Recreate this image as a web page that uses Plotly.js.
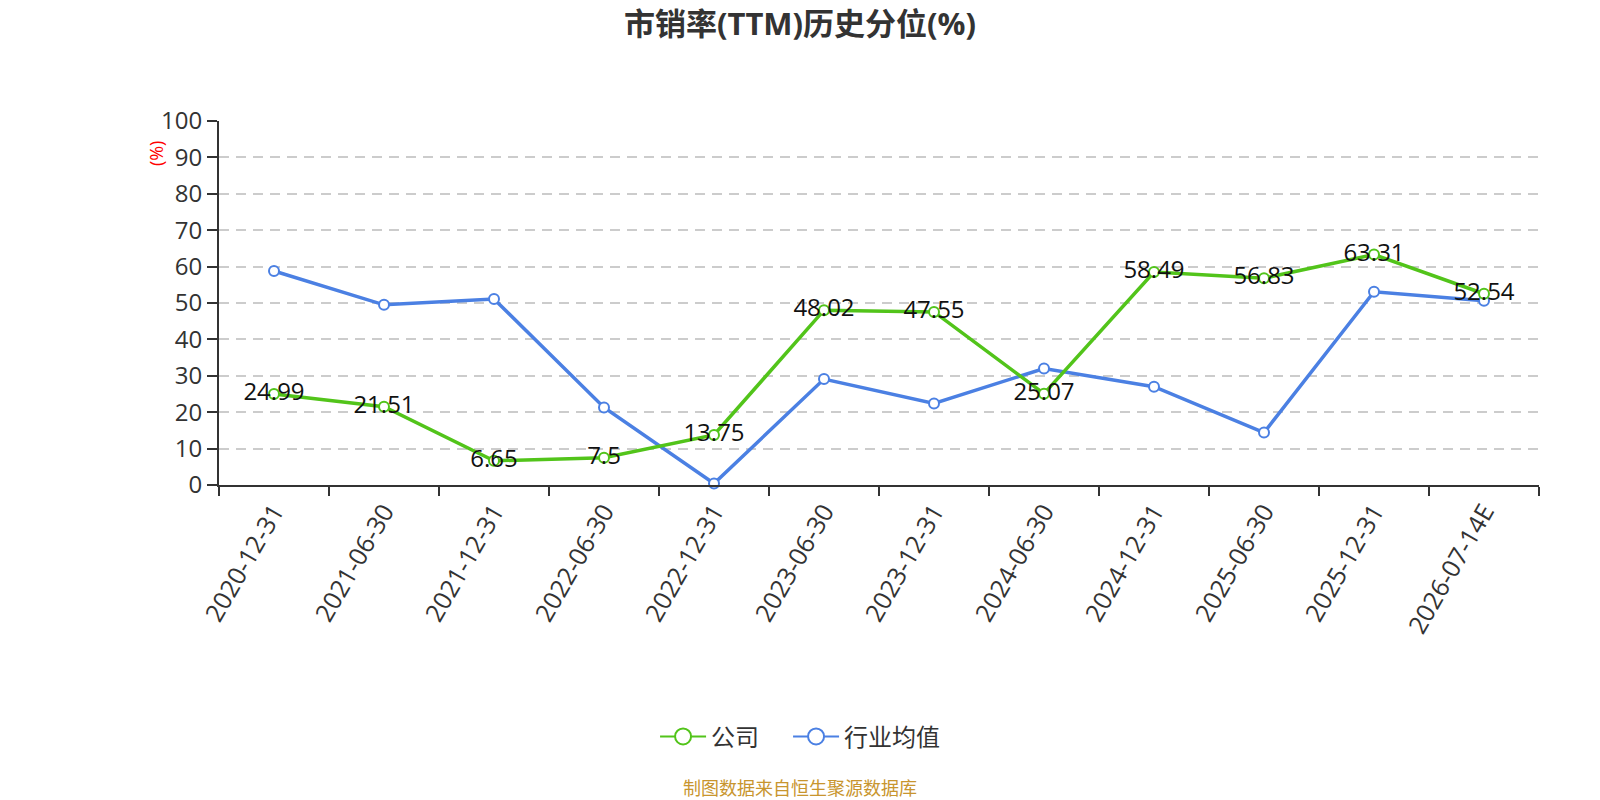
<!DOCTYPE html>
<html>
<head>
<meta charset="utf-8">
<script src="https://cdn.plot.ly/plotly-3.0.1.min.js"></script>
<style>
  html, body { margin: 0; padding: 0; background: #fff; }
  #chart { width: 1600px; height: 800px; }
</style>
</head>
<body>
<div id="chart"></div>
<script>
// report dates (last one is an estimate)
const dates = ['2020-12-31', '2021-06-30', '2021-12-31', '2022-06-30', '2022-12-31', '2023-06-30',
  '2023-12-31', '2024-06-30', '2024-12-31', '2025-06-30', '2025-12-31', '2026-07-14E'];
// company percentile, labelled in the picture
const company = [24.99, 21.51, 6.65, 7.5, 13.75, 48.02, 47.55, 25.07, 58.49, 56.83, 63.31, 52.54];
// industry average
const industry = [58.8, 49.5, 51.1, 21.3, 0.4, 29.1, 22.4, 32.0, 27.0, 14.4, 53.1, 50.6];
const yTicks = [0, 10, 20, 30, 40, 50, 60, 70, 80, 90, 100];

const green = '#52c41a';
const blue = '#4b80e3';
const fnt = '"Open Sans", "Noto Sans CJK SC", sans-serif';

const traces = [
  {
    x: dates, y: industry, name: '行业均值', type: 'scatter', mode: 'lines+markers',
    line: {color: blue, width: 3.5},
    marker: {symbol: 'circle', size: 10, color: '#fff', line: {color: blue, width: 2}},
    showlegend: false, cliponaxis: false
  },
  {
    x: dates, y: company, name: '公司', type: 'scatter', mode: 'lines+markers+text',
    text: company.map(String), textposition: 'middle center',
    textfont: {family: fnt, size: 24, color: '#111'},
    line: {color: green, width: 3.5},
    marker: {symbol: 'circle', size: 10, color: '#fff', line: {color: green, width: 2}},
    showlegend: false, cliponaxis: false
  },
  // legend entries with the larger symbols (em space widens the gap between items)
  {
    x: [null], y: [null], name: '公司\u2003', type: 'scatter', mode: 'lines+markers',
    line: {color: green, width: 2},
    marker: {size: 19, color: '#fff', line: {color: green, width: 2}}
  },
  {
    x: [null], y: [null], name: '行业均值', type: 'scatter', mode: 'lines+markers',
    line: {color: blue, width: 2},
    marker: {size: 19, color: '#fff', line: {color: blue, width: 2}}
  }
];

const layout = {
  width: 1600, height: 800,
  margin: {l: 219, r: 61, t: 121, b: 315, autoexpand: false},
  paper_bgcolor: '#fff', plot_bgcolor: '#fff',
  font: {family: fnt, color: '#333'},
  title: {
    text: '<b>市销率(TTM)历史分位(%)</b>',
    font: {family: fnt, size: 31, color: '#333'},
    x: 0.5, xanchor: 'center', y: 0.97, yanchor: 'middle'
  },
  xaxis: {
    type: 'category', range: [-0.5, 11.5], tickson: 'boundaries',
    tickangle: -60, tickfont: {size: 25, color: '#333'},
    ticks: 'outside', ticklen: 9, tickwidth: 2, tickcolor: '#333',
    showline: true, linecolor: '#333', linewidth: 2,
    showgrid: false, zeroline: false, fixedrange: true
  },
  yaxis: {
    range: [0, 100], tickvals: yTicks, tickfont: {size: 24, color: '#333'},
    ticks: 'outside', ticklen: 10, tickwidth: 2, tickcolor: '#333',
    showline: true, linecolor: '#333', linewidth: 2,
    showgrid: true, gridcolor: '#cccccc', gridwidth: 2, griddash: '10px,7px',
    zeroline: false, fixedrange: true
  },
  legend: {
    orientation: 'h', x: 0.4402, xanchor: 'center',
    y: -0.692, yanchor: 'middle',
    font: {size: 24, color: '#333'}, itemwidth: 46
  },
  annotations: [
    {
      text: '(%)', xref: 'paper', yref: 'paper', x: -0.0477, y: 0.912,
      xanchor: 'center', yanchor: 'middle',
      showarrow: false, textangle: -90, font: {size: 18, color: '#ff0000'}
    },
    {
      text: '制图数据来自恒生聚源数据库', xref: 'paper', yref: 'paper', x: 0.4402, y: -0.833,
      xanchor: 'center', yanchor: 'middle', showarrow: false,
      font: {size: 18, color: '#c8952e'}
    }
  ]
};

Plotly.newPlot('chart', traces, layout, {displayModeBar: false, staticPlot: true});
</script>
</body>
</html>
